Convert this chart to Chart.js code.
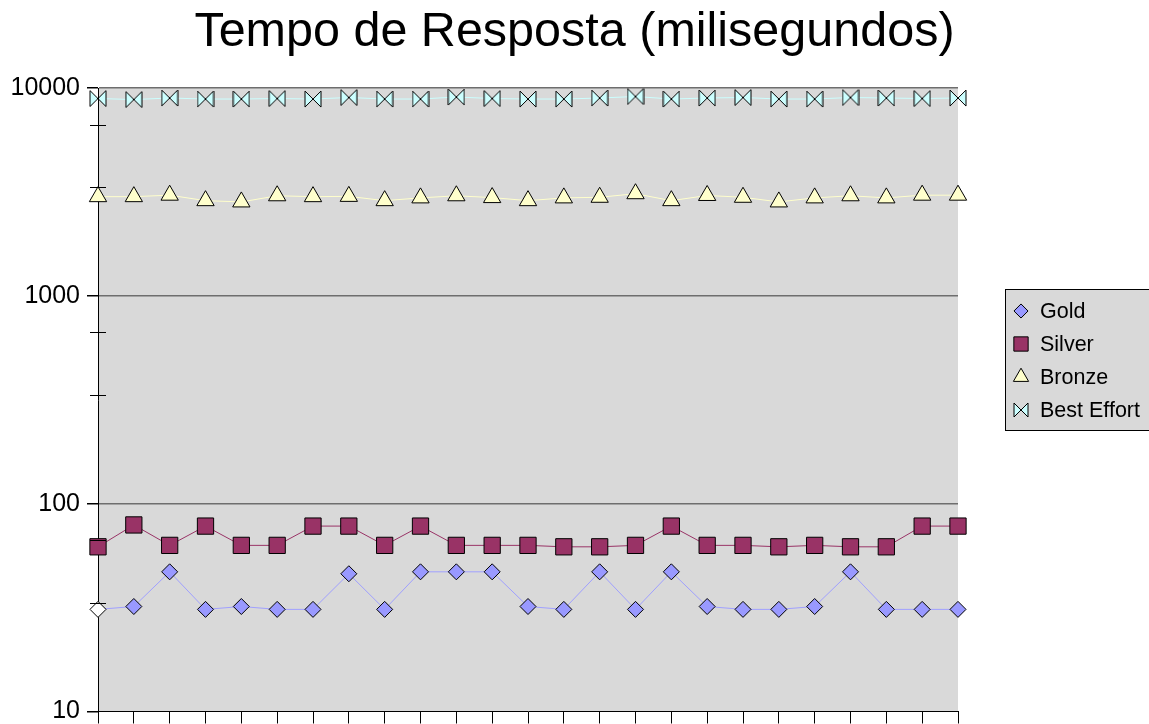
<!DOCTYPE html>
<html>
<head>
<meta charset="utf-8">
<script src="https://cdn.jsdelivr.net/npm/chart.js@4.4.1/dist/chart.umd.min.js"></script>
<style>
  html, body { margin: 0; padding: 0; background: #fff; }
  #wrap { width: 1149px; height: 724px; position: relative; }
</style>
</head>
<body>
<div id="wrap"><canvas id="chart"></canvas></div>
<script>
const categories = ['1','2','3','4','5','6','7','8','9','10','11','12','13','14','15','16','17','18','19','20','21','22','23','24','25'];

const gold = [31, 32, 47, 31, 32, 31, 31, 46, 31, 47, 47, 47, 32, 31, 47, 31, 47, 32, 31, 31, 32, 47, 31, 31, 31];
const silver = [62, 79, 63, 78, 63, 63, 78, 78, 63, 78, 63, 63, 63, 62, 62, 63, 78, 63, 63, 62, 63, 62, 62, 78, 78];
const bronze = [3000, 3000, 3050, 2870, 2830, 3030, 3000, 3010, 2870, 2960, 3030, 2970, 2870, 2960, 2980, 3100, 2870, 3040, 2980, 2830, 2960, 3030, 2960, 3050, 3050];
const bestEffort = [8900, 8800, 8950, 8850, 8850, 8900, 8850, 9000, 8850, 8850, 9050, 8900, 8850, 8850, 8950, 9100, 8850, 8950, 9000, 8850, 8850, 9000, 8950, 8900, 8950];

const majorTicks = [10, 100, 1000, 10000];
const minorTicks = [33.33, 66.67, 333.3, 666.7, 3333, 6667];

// bow-tie marker for "Best Effort" (Chart.js has no such point style)
function bowtie(size) {
  const c = document.createElement('canvas');
  c.width = size + 2;
  c.height = size + 2;
  const g = c.getContext('2d');
  g.beginPath();
  g.moveTo(1, 1);
  g.lineTo(size + 1, size + 1);
  g.lineTo(size + 1, 1);
  g.lineTo(1, size + 1);
  g.closePath();
  g.fillStyle = '#ccffff';
  g.fill();
  g.strokeStyle = '#000';
  g.lineWidth = 1;
  g.stroke();
  return c;
}

const plotBg = {
  id: 'plotBg',
  beforeDraw(chart) {
    const a = chart.chartArea, ctx = chart.ctx;
    ctx.save();
    ctx.fillStyle = '#d9d9d9';
    ctx.fillRect(a.left, a.top, a.right - a.left, a.bottom - a.top);
    ctx.restore();
  },
  afterDraw(chart) {
    // minor ticks crossing the y axis
    const y = chart.scales.y, ctx = chart.ctx;
    ctx.save();
    ctx.strokeStyle = '#000';
    ctx.lineWidth = 1;
    minorTicks.forEach(v => {
      const py = Math.round(y.getPixelForValue(v)) + 0.5;
      ctx.beginPath();
      ctx.moveTo(y.right - 8, py);
      ctx.lineTo(y.right + 8, py);
      ctx.stroke();
    });
    ctx.restore();
  }
};

const boxLegend = {
  id: 'boxLegend',
  afterDraw(chart) {
    const ctx = chart.ctx;
    const left = 1005, top = 289, w = 150, h = 141;
    ctx.save();
    ctx.fillStyle = '#d9d9d9';
    ctx.fillRect(left, top, w, h);
    ctx.strokeStyle = '#000';
    ctx.lineWidth = 1;
    ctx.strokeRect(left + 0.5, top + 0.5, w, h);
    ctx.font = '21.5px "Liberation Sans", Arial, sans-serif';
    ctx.textBaseline = 'middle';
    ctx.textAlign = 'left';
    chart.data.datasets.forEach((ds, i) => {
      const cy = top + 22 + i * 33;
      ctx.fillStyle = ds.backgroundColor;
      ctx.strokeStyle = '#000';
      ctx.lineWidth = 1;
      Chart.helpers.drawPoint(ctx, {
        pointStyle: ds.legendStyle || ds.pointStyle,
        radius: ds.pointRadius * 0.88,
        rotation: 0,
        borderWidth: 1
      }, left + 16, cy);
      ctx.fillStyle = '#000';
      ctx.fillText(ds.label, left + 35, cy + 1);
    });
    ctx.restore();
  }
};

function series(label, data, fill, line, style, radius) {
  return {
    label: label,
    data: data,
    xAxisID: 'x',
    yAxisID: 'y',
    borderColor: line,
    backgroundColor: fill,
    borderWidth: 1,
    tension: 0,
    pointStyle: style,
    pointRadius: radius,
    pointHoverRadius: radius,
    pointBackgroundColor: fill,
    pointBorderColor: '#000',
    pointBorderWidth: 1,
    clip: false
  };
}

const goldSet = series('Gold', gold, '#9999ff', '#a0a0ff', 'rectRot', 8);
goldSet.pointBackgroundColor = c => c.dataIndex === 0 ? '#ffffff' : '#9999ff';
const beSet = series('Best Effort', bestEffort, '#ccffff', '#ccffff', bowtie(16), 8);
beSet.legendStyle = bowtie(14);

new Chart(document.getElementById('chart'), {
  type: 'line',
  data: {
    labels: categories,
    datasets: [
      goldSet,
      series('Silver', silver, '#993366', '#993366', 'rect', 11.5),
      series('Bronze', bronze, '#ffffcc', '#ffffcc', 'triangle', 10),
      beSet
    ]
  },
  options: {
    responsive: true,
    maintainAspectRatio: false,
    animation: false,
    layout: { padding: 0 },
    plugins: {
      legend: { display: false },
      tooltip: { enabled: false },
      title: {
        display: true,
        text: 'Tempo de Resposta (milisegundos)',
        color: '#000',
        font: { family: '"Liberation Sans", Arial, sans-serif', size: 48.5, weight: 'normal', lineHeight: 1.2 },
        padding: { top: 4, bottom: 25.8 }
      }
    },
    scales: {
      x: {
        type: 'category',
        offset: false,
        afterFit: s => { s.height = 12; },
        grid: {
          display: true,
          drawOnChartArea: false,
          drawTicks: true,
          tickLength: 12,
          tickColor: '#000'
        },
        border: { display: true, color: '#000', width: 1 },
        ticks: { display: false }
      },
      y: {
        type: 'logarithmic',
        position: 'left',
        min: 10,
        max: 10000,
        afterFit: s => {
          s.width = 98;
          s.paddingTop = 0;
          s.paddingBottom = 0;
        },
        afterBuildTicks: s => {
          s.ticks = majorTicks.map(v => ({ value: v }));
        },
        grid: {
          drawTicks: true,
          tickLength: 11,
          tickColor: '#000',
          lineWidth: 1.5,
          color: c => (c.tick && c.tick.value === 10) ? 'rgba(0,0,0,0)' : '#6e6e6e'
        },
        border: { display: true, color: '#000', width: 1 },
        ticks: {
          autoSkip: false,
          color: '#000',
          padding: 7,
          font: { family: '"Liberation Sans", Arial, sans-serif', size: 25 },
          callback: v => String(v)
        }
      },
      // empty right-hand box that keeps room for the legend
      spacer: {
        type: 'linear',
        axis: 'y',
        position: 'right',
        display: true,
        min: 0,
        max: 1,
        afterFit: s => { s.width = 191; s.paddingTop = 0; s.paddingBottom = 0; },
        grid: { display: false },
        border: { display: false },
        ticks: { display: false }
      }
    }
  },
  plugins: [plotBg, boxLegend]
});
</script>
</body>
</html>
